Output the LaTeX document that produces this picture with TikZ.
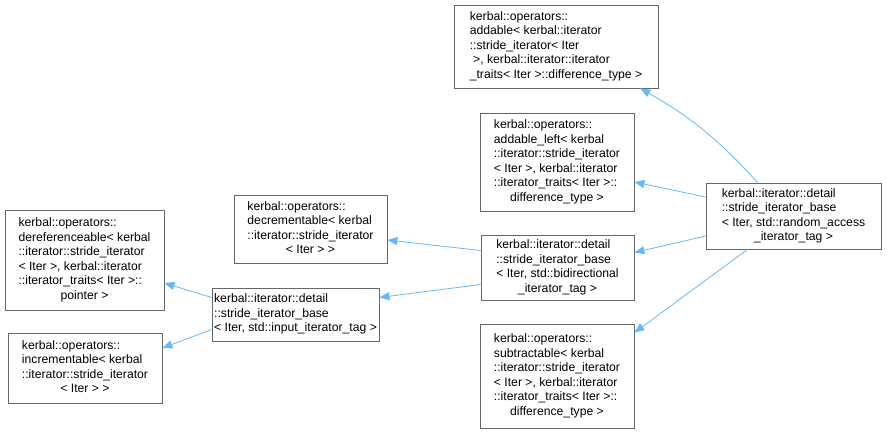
\documentclass[tikz,border=0pt]{standalone}
\usepackage{fontspec}
\setmainfont{Liberation Sans}
\usepackage{xcolor}
\usepackage{tikz}
\usetikzlibrary{arrows.meta,calc}

\definecolor{edgeblue}{HTML}{63B8FF}
\definecolor{boxgray}{HTML}{666666}

% class label: left-aligned lines, last line centred
\newcommand{\cname}[2]{\begin{tabular}{@{}l@{}}#1\\\multicolumn{1}{@{}c@{}}{#2}\end{tabular}}

\begin{document}
\begin{tikzpicture}[
    >={Triangle[length=10pt,width=8pt]},
    x=1pt, y=-1pt,
    cls/.style={draw=boxgray,fill=white,line width=0.8pt,inner sep=1pt,
                font=\fontsize{12.2}{14.5}\selectfont},
    inh/.style={->,edgeblue,line width=0.8pt},
  ]
  \useasboundingbox (0,0) rectangle (887,434);

  % --- operator bases (right column) ---
  \node[cls,minimum width=204pt,minimum height=83pt] (a) at (556,46.5)
    {\cname{kerbal::operators::\\addable< kerbal::iterator\\::stride\_iterator< Iter\\\ >, kerbal::iterator::iterator}{\_traits< Iter >::difference\_type >}};
  \node[cls,minimum width=154pt,minimum height=98pt] (al) at (557,162)
    {\cname{kerbal::operators::\\addable\_left< kerbal\\::iterator::stride\_iterator\\< Iter >, kerbal::iterator\\::iterator\_traits< Iter >::}{difference\_type >}};
  \node[cls,minimum width=153pt,minimum height=65pt] (bd) at (557.5,267.5)
    {\cname{kerbal::iterator::detail\\::stride\_iterator\_base\\< Iter, std::bidirectional}{\_iterator\_tag >}};
  \node[cls,minimum width=154pt,minimum height=104pt] (sub) at (557,376)
    {\cname{kerbal::operators::\\subtractable< kerbal\\::iterator::stride\_iterator\\< Iter >, kerbal::iterator\\::iterator\_traits< Iter >::}{difference\_type >}};

  % --- most derived ---
  \node[cls,minimum width=175pt,minimum height=66pt] (ra) at (793.5,216)
    {\cname{kerbal::iterator::detail\\::stride\_iterator\_base\\< Iter, std::random\_access}{\_iterator\_tag >}};

  % --- middle column ---
  \node[cls,minimum width=153pt,minimum height=68pt] (dec) at (310.5,229)
    {\cname{kerbal::operators::\\decrementable< kerbal\\::iterator::stride\_iterator}{< Iter > >}};
  \node[cls,minimum width=167pt,minimum height=53pt] (in) at (295.5,314.5)
    {\cname{kerbal::iterator::detail\\::stride\_iterator\_base}{< Iter, std::input\_iterator\_tag >}};

  % --- left column ---
  \node[cls,minimum width=159pt,minimum height=100pt] (der) at (84.5,260)
    {\cname{kerbal::operators::\\dereferenceable< kerbal\\::iterator::stride\_iterator\\< Iter >, kerbal::iterator\\::iterator\_traits< Iter >::}{pointer >}};
  \node[cls,minimum width=154pt,minimum height=70pt] (inc) at (85,368)
    {\cname{kerbal::operators::\\incrementable< kerbal\\::iterator::stride\_iterator}{< Iter > >}};

  % --- inheritance edges (derived -> base) ---
  \draw[inh] ($(in.west)+(0,-17)$) -- ($(der.east)+(0,23)$);
  \draw[inh] ($(in.west)+(0,15)$) -- ($(inc.east)+(0,-20)$);
  \draw[inh] ($(bd.west)+(0,-17)$) -- ($(dec.east)+(0,11)$);
  \draw[inh] ($(bd.west)+(0,17)$) -- ($(in.east)+(0,-17)$);
  \draw[inh] ($(ra.north west)+(52,0)$) to[bend right=9] ($(a.south east)+(-18,0)$);
  \draw[inh] ($(ra.west)+(0,-19)$) -- ($(al.east)+(0,20)$);
  \draw[inh] ($(ra.west)+(0,20)$) -- ($(bd.east)+(0,-15)$);
  \draw[inh] ($(ra.south west)+(42,0)$) -- ($(sub.north east)+(0,9)$);

\end{tikzpicture}
\end{document}
